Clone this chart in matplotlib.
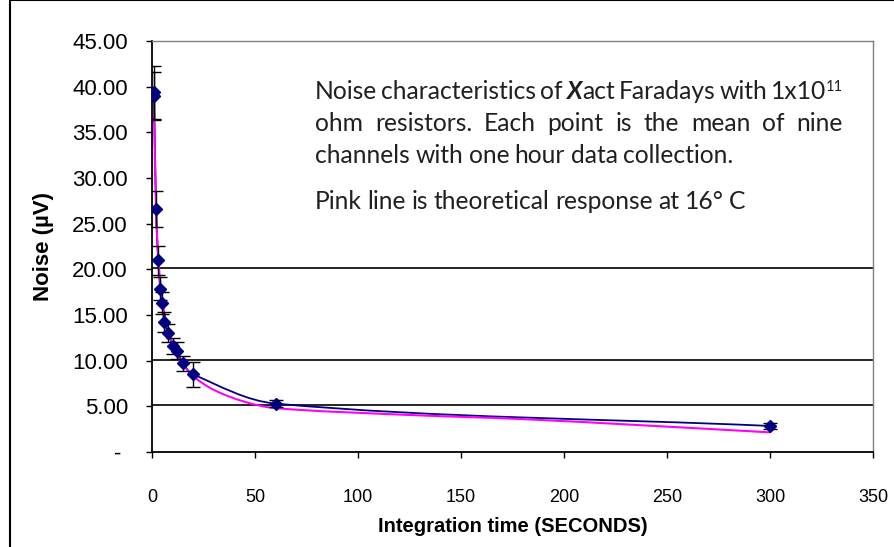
import matplotlib

matplotlib.use("Agg")
import matplotlib.pyplot as plt  # noqa: E402
import numpy as np  # noqa: E402
from matplotlib.path import Path  # noqa: E402
from matplotlib.patches import PathPatch, Rectangle  # noqa: E402

# measured noise (mean of nine channels), with error bars
meas_t = [1, 1, 2, 3, 4, 5, 6, 8, 10, 12, 15, 20, 60, 300]
meas_uv = [39.4, 39.0, 26.6, 21.0, 17.9, 16.3, 14.2, 13.0, 11.6, 11.1, 9.7, 8.5, 5.3, 2.85]
meas_err = [2.9, 2.6, 2.0, 1.6, 1.3, 1.2, 1.1, 1.0, 0.9, 0.9, 0.8, 1.4, 0.4, 0.35]

# theoretical response at 16 C (pink line)
theo_t = [1, 2, 3, 4, 5, 6, 8, 10, 12, 15, 20, 30, 45, 60, 120, 180, 240, 300]
theo_uv = [37.2, 26.3, 21.5, 18.6, 16.6, 15.2, 13.2, 11.8, 10.7, 9.6, 8.3, 6.8, 5.5, 4.8, 4.1, 3.6, 2.9, 2.15]

# horizontal reference lines drawn across the plot
ref_levels = [5.2, 10.1, 20.2]

y_ticks = [0, 5, 10, 15, 20, 25, 30, 35, 40, 45]
x_ticks = [0, 50, 100, 150, 200, 250, 300, 350]

W, H = 894, 547
NAVY = "#000080"
PINK = "#ff00ff"
SX, SY = 721 / 350, 411 / 45   # pixels per data unit, used for smoothing


def smooth_path(xs, ys):
    # excel style smoothed line, tangents scaled by chord length (screen space)
    pts = np.column_stack([np.asarray(xs, float) * SX, np.asarray(ys, float) * SY])
    n = len(pts)

    def unit(v):
        nv = np.hypot(*v)
        return v / nv if nv > 0 else v

    verts = [pts[0]]
    codes = [Path.MOVETO]
    for i in range(n - 1):
        p0 = pts[i - 1] if i > 0 else pts[i]
        p1 = pts[i]
        p2 = pts[i + 1]
        p3 = pts[i + 2] if i + 2 < n else pts[i + 1]
        d = np.hypot(*(p2 - p1)) / 3.0
        c1 = p1 + unit(p2 - p0) * d
        c2 = p2 - unit(p3 - p1) * d
        verts += [c1, c2, p2]
        codes += [Path.CURVE4] * 3
    verts = np.array(verts) / [SX, SY]
    return Path(verts, codes)


def px(x, y):
    return x / W, 1 - y / H


fig = plt.figure(figsize=(W / 100, H / 100), dpi=100)
fig.patches.append(Rectangle(px(10, 560), (W + 20) / W, 560 / H, transform=fig.transFigure,
                             fill=False, edgecolor="black", linewidth=1.5))

ax = fig.add_axes([152 / W, 1 - 452 / H, (873 - 152) / W, (452 - 41) / H])
ax.set_xlim(0, 350)
ax.set_ylim(0, 45)

for lv in ref_levels:
    ax.axhline(lv, color="black", linewidth=1.2, zorder=1)

ax.add_patch(PathPatch(smooth_path(meas_t, meas_uv), facecolor="none", edgecolor=NAVY,
                       linewidth=1.3, zorder=2))
ax.add_patch(PathPatch(smooth_path(theo_t, theo_uv), facecolor="none", edgecolor=PINK,
                       linewidth=1.5, zorder=3))
ax.errorbar(meas_t, meas_uv, yerr=meas_err, fmt="none", ecolor="black", elinewidth=1,
            capsize=5, capthick=1, zorder=4)
ax.plot(meas_t, meas_uv, linestyle="none", marker="D", markersize=6, color=NAVY, zorder=5)

ax.set_yticks(y_ticks)
ax.set_yticklabels(["- " if v == 0 else f"{v:.2f}" for v in y_ticks],
                   fontfamily="Liberation Sans", fontsize=16)
ax.set_xticks(x_ticks)
ax.set_xticklabels([str(v) for v in x_ticks], fontfamily="Liberation Sans", fontsize=13)
ax.tick_params(axis="y", direction="out", length=4.3, width=1, pad=13)
ax.tick_params(axis="x", direction="out", length=4.3, width=1, pad=22)

for side in ("top", "right"):
    ax.spines[side].set_color("#808080")
    ax.spines[side].set_linewidth(1)
for side in ("left", "bottom"):
    ax.spines[side].set_color("black")
    ax.spines[side].set_linewidth(1.3)

ax.set_xlabel("Integration time (SECONDS)", fontfamily="Liberation Sans", fontsize=14.5,
              fontweight="bold", labelpad=8)
ax.set_ylabel("Noise (\u00b5V)", fontfamily="Liberation Sans", fontsize=16,
              fontweight="bold", labelpad=13)

# annotation block, justified like the word-processor text box
renderer = fig.canvas.get_renderer()
TXT = dict(fontfamily="Lato", fontsize=17.7, color="#231f20", va="baseline")


def word(x, y, runs):
    start = x
    for s, kw in runs:
        opts = dict(TXT)
        dy = kw.pop("dy", 0)
        opts.update(kw)
        t = fig.text(*px(x, y - dy), s, **opts)
        x = x + t.get_window_extent(renderer).width
    return x - start


def text_line(y, words, right=None, left=315):
    widths = []
    made = []
    for w in words:
        n0 = len(fig.texts)
        widths.append(word(0, y, [(s, dict(k)) for s, k in w]))
        made.append(fig.texts[n0:])
    gap = 5.5
    if right is not None and len(words) > 1:
        gap = (right - left - sum(widths)) / (len(words) - 1)
    x = left
    for grp, w in zip(made, widths):
        for t in grp:
            x0, y0 = t.get_position()
            t.set_position((x0 + x / W, y0))
        x += w + gap


def plain(s):
    return [(s, {})]


line1 = [plain("Noise"), plain("characteristics"), plain("of"),
         [("X", {"fontweight": "bold", "fontstyle": "italic"}), ("act", {})],
         plain("Faradays"), plain("with"),
         [("1x10", {}), ("11", {"fontsize": 10.5, "dy": 8})]]
line2 = [plain(w) for w in "ohm resistors. Each point is the mean of nine".split()]
line3 = [plain(w) for w in "channels with one hour data collection.".split()]
line4 = [plain(w) for w in "Pink line is theoretical response at 16\u00b0 C".split()]

text_line(99, line1, right=843)
text_line(131, line2, right=843)
text_line(163, line3)
text_line(209, line4)

fig.savefig("out.png", dpi=100)
